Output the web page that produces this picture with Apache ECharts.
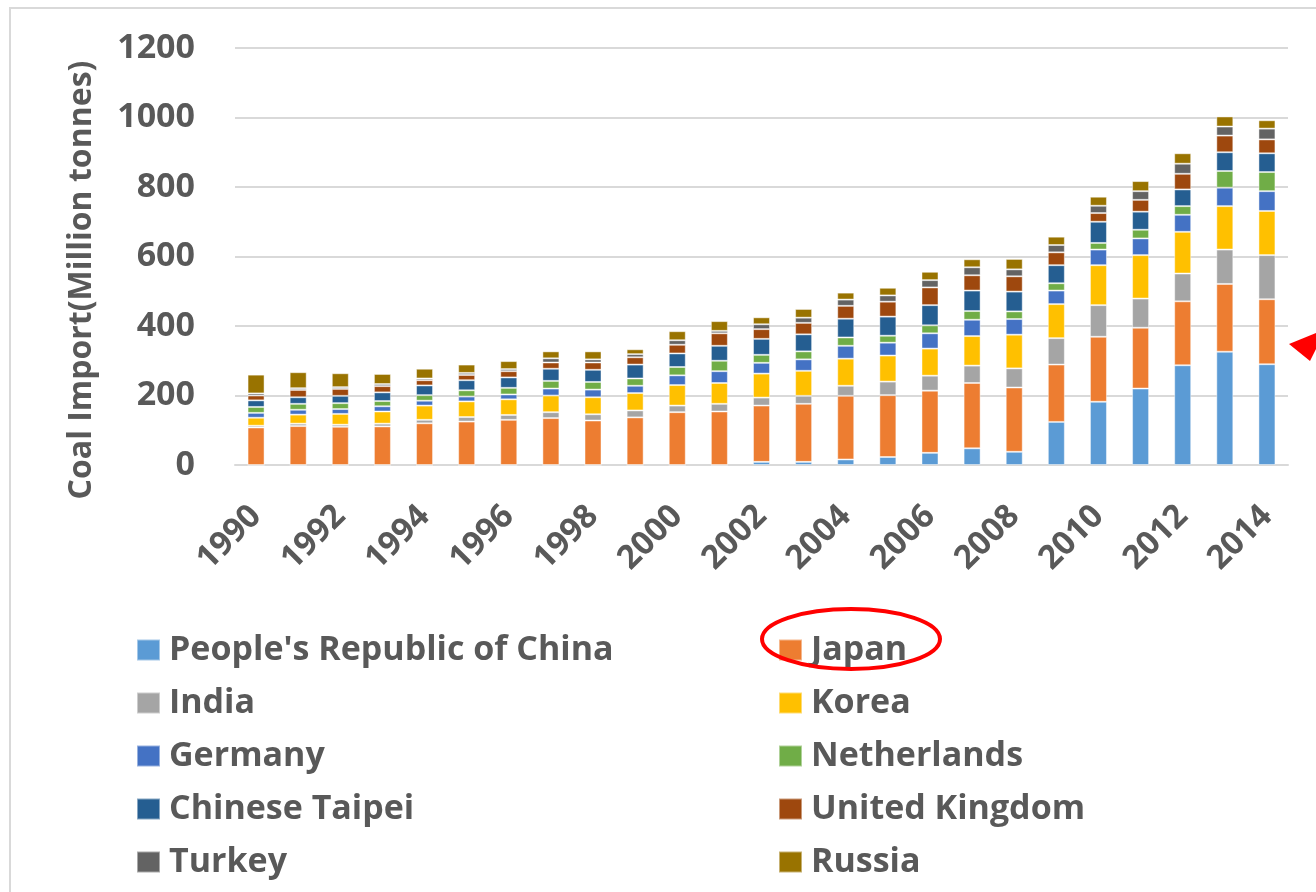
<!DOCTYPE html>
<html>
<head>
<meta charset="utf-8">
<title>Coal Import</title>
<script src="https://cdn.jsdelivr.net/npm/echarts@6/dist/echarts.min.js"></script>
<style>
  html, body { margin: 0; padding: 0; background: #fff; }
  #chart { width: 1316px; height: 892px; }
</style>
</head>
<body>
<div id="chart"></div>
<script>
// Coal imports by country, million tonnes
const years = ['1990','1991','1992','1993','1994','1995','1996','1997','1998','1999','2000','2001','2002','2003','2004','2005','2006','2007','2008','2009','2010','2011','2012','2013','2014'];

const china       = [0,0,0,0,0,0,0,0,0,0,0,0,9,9,16,23,35,48,38,124,182,220,287,326,290];
const japan       = [108,112,110,111,120,125,130,135,128,137,152,154,162,167,183,178,179,188,185,165,187,175,184,195,187];
const india       = [5,7,6,8,10,13,14,17,18,20,19,22,23,23,29,39,43,50,55,76,91,84,80,99,127];
const korea       = [23,26,31,35,41,45,45,48,49,50,59,60,69,72,78,75,78,85,97,98,115,125,120,125,127];
const germany     = [14,14,14,15,14,14,14,20,22,21,28,34,31,33,37,37,44,47,45,39,45,48,49,53,57];
const netherlands = [17,17,17,15,16,18,19,22,22,21,24,30,23,23,24,20,23,25,22,21,19,25,25,48,55];
const taipei      = [19,19,21,25,28,29,30,35,35,40,39,43,46,49,54,55,58,59,57,52,61,52,48,54,54];
const uk          = [14,21,20,18,15,15,18,18,21,21,25,36,28,33,37,43,51,44,44,37,25,34,45,48,40];
const turkey      = [6,5,5,6,5,6,6,12,9,9,13,7,14,15,18,18,21,23,20,21,21,25,29,26,31];
const russia      = [54,46,40,29,28,24,23,20,23,14,26,28,20,25,20,22,24,23,30,24,26,29,30,29,24];

const yTicks = { min: 0, max: 1200, interval: 200 };

const seriesDefs = [
  { name: "People's Republic of China", data: china,       color: '#5B9BD5' },
  { name: 'Japan',                      data: japan,       color: '#ED7D31' },
  { name: 'India',                      data: india,       color: '#A5A5A5' },
  { name: 'Korea',                      data: korea,       color: '#FFC000' },
  { name: 'Germany',                    data: germany,     color: '#4472C4' },
  { name: 'Netherlands',                data: netherlands, color: '#70AD47' },
  { name: 'Chinese Taipei',             data: taipei,      color: '#255E91' },
  { name: 'United Kingdom',             data: uk,          color: '#9E480E' },
  { name: 'Turkey',                     data: turkey,      color: '#636363' },
  { name: 'Russia',                     data: russia,      color: '#997300' }
];

const FONT = '"Open Sans", "Noto Sans", sans-serif';
const TEXT = '#595959';

const chart = echarts.init(document.getElementById('chart'), null, { renderer: 'canvas' });

const legendText = {
  color: TEXT, fontFamily: FONT, fontWeight: 'bold', fontSize: 34,
  lineHeight: 40, padding: [0, 0, 0, 4]
};

chart.setOption({
  animation: false,
  backgroundColor: '#fff',
  grid: { left: 235, right: 28, top: 48, bottom: 427, containLabel: false },
  xAxis: {
    type: 'category',
    data: years,
    axisLine: { show: true, lineStyle: { color: '#D9D9D9', width: 2 } },
    axisTick: { show: false },
    axisLabel: {
      interval: 1, rotate: 45, margin: 46,
      color: TEXT, fontFamily: FONT, fontWeight: 'bold', fontSize: 33
    }
  },
  yAxis: {
    type: 'value',
    min: yTicks.min, max: yTicks.max, interval: yTicks.interval,
    axisLine: { show: false },
    axisTick: { show: false },
    splitLine: { lineStyle: { color: '#D9D9D9', width: 2 } },
    axisLabel: {
      margin: 40, color: TEXT, fontFamily: FONT, fontWeight: 'bold', fontSize: 34,
      formatter: v => String(v)
    }
  },
  legend: [
    {
      orient: 'vertical', left: 131, top: 625,
      itemWidth: 23, itemHeight: 21, itemGap: 13, icon: 'rect',
      textStyle: legendText,
      data: [seriesDefs[0].name, seriesDefs[2].name, seriesDefs[4].name, seriesDefs[6].name, seriesDefs[8].name]
    },
    {
      orient: 'vertical', left: 773, top: 625,
      itemWidth: 23, itemHeight: 21, itemGap: 13, icon: 'rect',
      textStyle: legendText,
      data: [seriesDefs[1].name, seriesDefs[3].name, seriesDefs[5].name, seriesDefs[7].name, seriesDefs[9].name]
    }
  ],
  series: seriesDefs.map(s => ({
    name: s.name,
    type: 'bar',
    stack: 'imports',
    barWidth: 17,
    data: s.data,
    itemStyle: { color: s.color, borderColor: 'rgba(255,255,255,0.45)', borderWidth: 1 }
  })),
  graphic: [
    // chart area frame
    {
      type: 'rect', silent: true, z: -1,
      shape: { x: 10, y: 8, width: 1400, height: 1000 },
      style: { fill: 'none', stroke: '#D9D9D9', lineWidth: 2 }
    },
    // vertical axis title
    {
      type: 'text', silent: true,
      x: 82, y: 280, rotation: Math.PI / 2,
      style: {
        text: 'Coal Import(Million tonnes)',
        fill: TEXT, font: 'bold 32px ' + FONT,
        align: 'center', verticalAlign: 'middle'
      }
    },
    // highlight around the Japan legend entry
    {
      type: 'ellipse', silent: true, z: 100,
      shape: { cx: 851, cy: 639, rx: 89, ry: 30 },
      style: { fill: 'none', stroke: '#FF0000', lineWidth: 4 }
    },
    // arrow pointing at the Japan segment
    {
      type: 'polygon', silent: true, z: 100,
      shape: { points: [[1289, 344], [1316, 333], [1316, 349], [1310, 361]] },
      style: { fill: '#FF0000' }
    }
  ]
});
</script>
</body>
</html>
